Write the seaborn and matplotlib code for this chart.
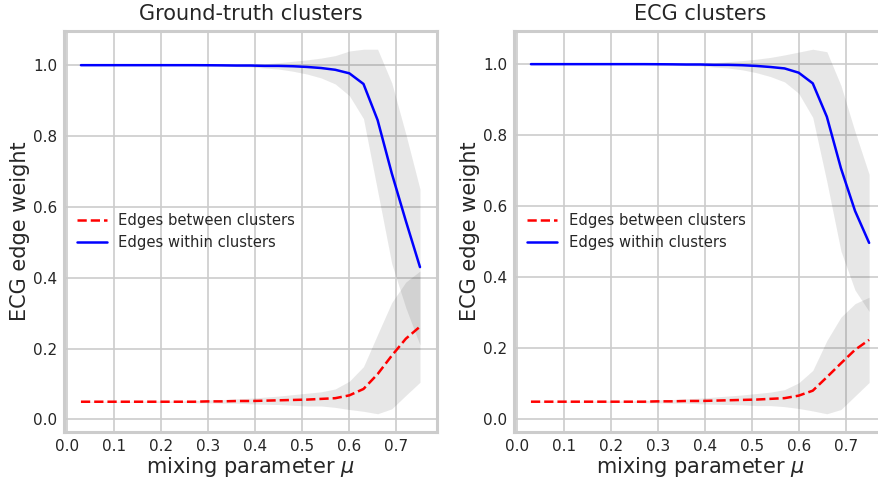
import matplotlib
matplotlib.use("Agg")
import matplotlib.pyplot as plt
import seaborn as sns
import numpy as np

# ---- data ----
mu = [0.03, 0.06, 0.09, 0.12, 0.15, 0.18, 0.21, 0.24, 0.27, 0.30, 0.33, 0.36, 0.39,
      0.42, 0.45, 0.48, 0.51, 0.54, 0.57, 0.60, 0.63, 0.66, 0.69, 0.72, 0.75]

gt_within_mean = [1.0, 1.0, 1.0, 1.0, 1.0, 1.0, 1.0, 1.0, 1.0, 0.9998, 0.9995, 0.999, 0.999,
                  0.998, 0.998, 0.997, 0.995, 0.992, 0.987, 0.977, 0.947, 0.845, 0.695, 0.56, 0.43]
gt_within_std = [0.0, 0.0, 0.0, 0.0, 0.0005, 0.0005, 0.001, 0.001, 0.0015, 0.002, 0.002, 0.003, 0.004,
                 0.006, 0.009, 0.014, 0.02, 0.028, 0.04, 0.063, 0.098, 0.2, 0.255, 0.245, 0.22]
gt_between_mean = [0.050, 0.050, 0.050, 0.050, 0.050, 0.050, 0.050, 0.050, 0.050, 0.051, 0.051, 0.052, 0.052,
                   0.053, 0.054, 0.055, 0.056, 0.058, 0.060, 0.068, 0.086, 0.128, 0.180, 0.228, 0.262]
gt_between_std = [0.001, 0.001, 0.001, 0.001, 0.001, 0.002, 0.002, 0.002, 0.003, 0.004, 0.005, 0.006, 0.008,
                  0.010, 0.012, 0.015, 0.018, 0.020, 0.026, 0.040, 0.063, 0.112, 0.150, 0.160, 0.157]

ecg_within_mean = [1.0, 1.0, 1.0, 1.0, 1.0, 1.0, 1.0, 1.0, 1.0, 0.9998, 0.9995, 0.999, 0.999,
                   0.998, 0.998, 0.997, 0.995, 0.992, 0.988, 0.976, 0.946, 0.852, 0.707, 0.587, 0.497]
ecg_within_std = [0.0, 0.0, 0.0, 0.0, 0.0005, 0.0005, 0.001, 0.001, 0.0015, 0.002, 0.002, 0.003, 0.004,
                  0.006, 0.009, 0.013, 0.019, 0.027, 0.038, 0.058, 0.096, 0.183, 0.233, 0.223, 0.193]
ecg_between_mean = [0.050, 0.050, 0.050, 0.050, 0.050, 0.050, 0.050, 0.050, 0.050, 0.051, 0.051, 0.052, 0.052,
                    0.053, 0.054, 0.055, 0.056, 0.058, 0.060, 0.067, 0.081, 0.119, 0.158, 0.196, 0.224]
ecg_between_std = [0.001, 0.001, 0.001, 0.001, 0.001, 0.002, 0.002, 0.002, 0.003, 0.004, 0.005, 0.006, 0.008,
                   0.010, 0.012, 0.014, 0.017, 0.019, 0.024, 0.036, 0.057, 0.103, 0.130, 0.130, 0.120]

titles = ["Ground-truth clusters", "ECG clusters"]
labels = ["Edges between clusters", "Edges within clusters"]
xlabel = r"mixing parameter $\mu$"
ylabel = "ECG edge weight"

# ---- style ----
sns.set_theme(style="whitegrid")
plt.rcParams["font.family"] = ["DejaVu Sans"]
plt.rcParams.update({
    "axes.edgecolor": "#cccccc",
    "axes.linewidth": 2.2,
    "grid.color": "#cccccc",
    "grid.linewidth": 1.2,
    "text.color": ".15",
    "axes.labelcolor": ".15",
    "xtick.color": ".15",
    "ytick.color": ".15",
    "mathtext.fontset": "dejavusans",
})

fig = plt.figure(figsize=(8.79, 4.8), dpi=100)
ax1 = fig.add_axes([0.0728, 0.1, 0.4243, 0.8354])
ax2 = fig.add_axes([0.5848, 0.1, 0.4232, 0.8354])

panels = [
    (ax1, titles[0], gt_between_mean, gt_between_std, gt_within_mean, gt_within_std),
    (ax2, titles[1], ecg_between_mean, ecg_between_std, ecg_within_mean, ecg_within_std),
]

for ax, title, bm, bs, wm, ws in panels:
    x = np.array(mu)
    bm_a, bs_a = np.array(bm), np.array(bs)
    wm_a, ws_a = np.array(wm), np.array(ws)
    ax.fill_between(x, bm_a - bs_a, bm_a + bs_a, color="k", alpha=0.1, linewidth=0, zorder=1)
    ax.fill_between(x, wm_a - ws_a, wm_a + ws_a, color="k", alpha=0.1, linewidth=0, zorder=1)
    sns.lineplot(x=mu, y=bm, ax=ax, color="red", linestyle="--", linewidth=1.8,
                 label=labels[0], zorder=3)
    sns.lineplot(x=mu, y=wm, ax=ax, color="blue", linestyle="-", linewidth=1.8,
                 label=labels[1], zorder=3)
    ax.set_title(title, fontsize=15, pad=8)
    ax.set_xlabel(xlabel, fontsize=15, labelpad=0.5)
    ax.set_ylabel(ylabel, fontsize=15, labelpad=2)
    ax.tick_params(axis="both", labelsize=11, length=0, pad=5)
    ax.set_xticks([0.0, 0.1, 0.2, 0.3, 0.4, 0.5, 0.6, 0.7])
    ax.set_yticks([0.0, 0.2, 0.4, 0.6, 0.8, 1.0])
    ax.legend(loc="center left", frameon=False, fontsize=10.6)

fig.savefig("out.png", dpi=100)
